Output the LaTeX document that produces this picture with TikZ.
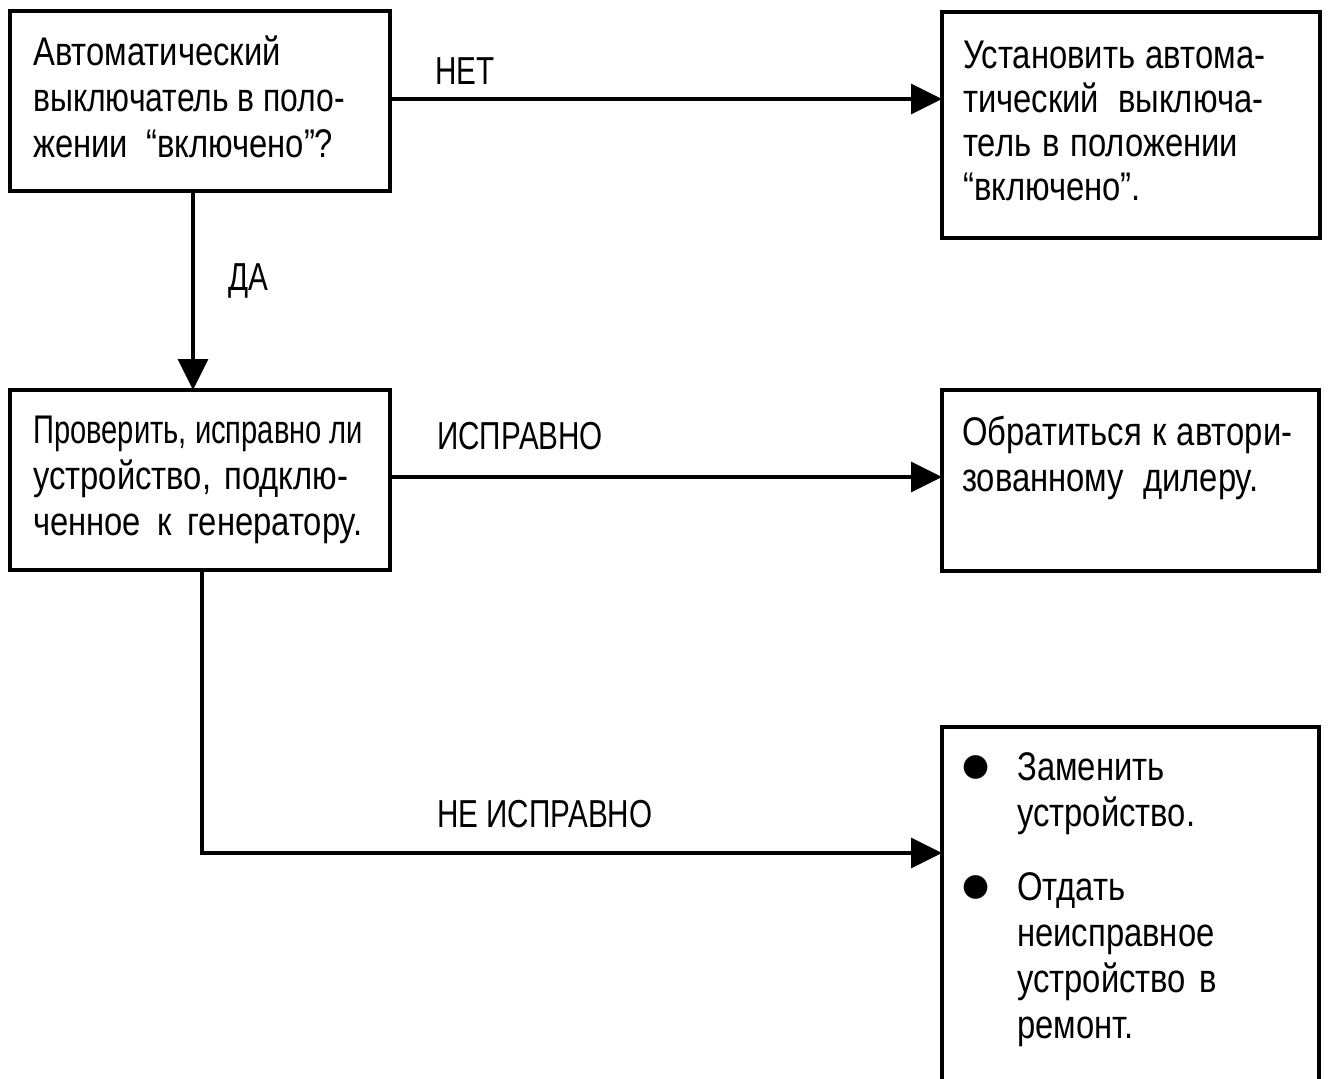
\documentclass[tikz,border=0pt]{standalone}
\usepackage{fontspec}
\usepackage{graphicx}
\setmainfont[FakeStretch=0.82]{Liberation Sans}
\newfontfamily\lblfont[FakeStretch=0.76]{Liberation Sans}
\newfontfamily\bulletfont{DejaVu Sans}
\usetikzlibrary{arrows.meta}
\newlength\jlw
\newcommand\jl[2]{\settowidth\jlw{#2}\ifdim\jlw<#1pt\makebox[#1pt][s]{#2}\else\resizebox{#1pt}{\height}{#2}\fi}
\newcommand\blt{\hspace*{-4pt}\raisebox{5pt}{\fontsize{31}{31}\bulletfont ●}}
\begin{document}
\begin{tikzpicture}[x=1pt,y=-1pt,
  box/.style={draw,line width=4pt,inner sep=0pt,outer sep=0pt,anchor=north west},
  txt/.style={inner sep=0pt,anchor=north west,align=left,font=\fontsize{40}{46}\selectfont},
  lbl/.style={inner sep=0pt,anchor=base west,font=\fontsize{39}{46}\lblfont},
  conn/.style={line width=3.5pt},
  arr/.style={conn,-{Triangle[length=31pt,width=30pt]}}]
\useasboundingbox (0,0) rectangle (1328,1079);
% boxes
\node[box,minimum width=380pt,minimum height=180pt] (b1) at (10,11) {};
\node[box,minimum width=378pt,minimum height=226pt] (b2) at (942,12) {};
\node[box,minimum width=380pt,minimum height=180pt] (b3) at (10,390) {};
\node[box,minimum width=377pt,minimum height=181pt] (b4) at (942,390) {};
\node[box,minimum width=377pt,minimum height=365pt] (b5) at (942,727) {};
% texts
\node[txt] (t1) at (33,32.8) {\strut Автоматический\\\jl{312}{выключатель в поло-}\\\jl{300}{жении “включено”?}};
\node[txt,font=\fontsize{40}{44}\selectfont] (t2) at (963,37.2) {\strut\jl{302}{Установить автома-}\\\jl{300}{тический выключа-}\\\jl{275}{тель в положении}\\“включено”.};
\node[txt] (t3) at (33,410.8) {\strut\jl{330}{Проверить, исправно ли}\\\jl{315}{устройство, подклю-}\\\jl{329}{ченное к генератору.}};
\node[txt] (t4) at (962,412.8) {\strut\jl{330}{Обратиться к автори-}\\\jl{296}{зованному дилеру.}};
\node[txt] (t5) at (966,747.8) {\begin{tabular}{@{}p{51pt}@{}l@{}}
\blt & Заменить\\
 & устройство.\\[28pt]
\blt & Отдать\\
 & неисправное\\
 & \jl{200}{устройство в}\\
 & ремонт.
\end{tabular}};
% connectors
\coordinate (ya) at (0,99);
\coordinate (xa) at (193,0);
\coordinate (yb) at (0,477);
\coordinate (cc) at (202,853);
\draw[arr] (b1.east |- ya) -- (b2.west |- ya);
\draw[arr] (b1.south -| xa) -- (b3.north -| xa);
\draw[arr] (b3.east |- yb) -- (b4.west |- yb);
\draw[arr] (b3.south -| cc) |- (b5.west |- cc);
% labels
\node[lbl] (l1) at (435,84) {НЕТ};
\node[lbl] (l2) at (228,290) {ДА};
\node[lbl] (l3) at (437,449) {ИСПРАВНО};
\node[lbl] (l4) at (437,827) {НЕ ИСПРАВНО};
\end{tikzpicture}
\end{document}
